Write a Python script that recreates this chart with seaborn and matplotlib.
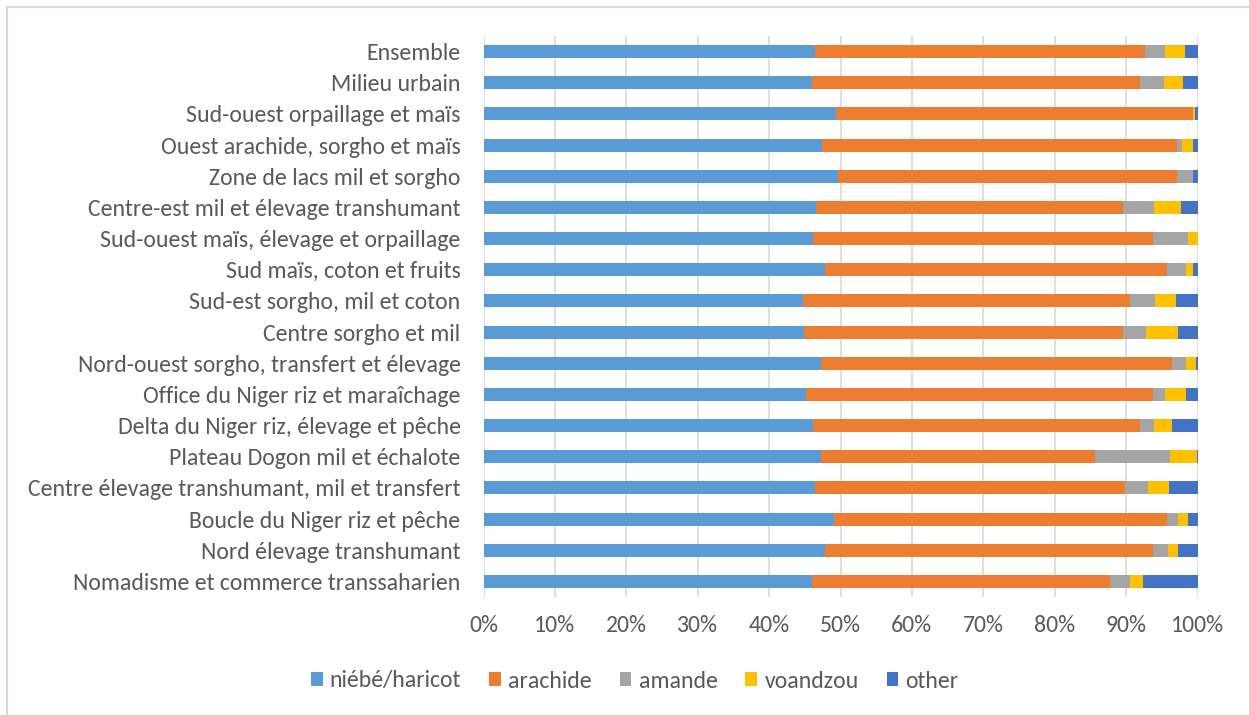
import numpy as np
import pandas as pd
import matplotlib
matplotlib.use("Agg")
import matplotlib.pyplot as plt
import seaborn as sns
from matplotlib.patches import Patch
from matplotlib.lines import Line2D
from matplotlib.ticker import FuncFormatter

# Livelihood zones, top to bottom
zones = [
    "Ensemble",
    "Milieu urbain",
    "Sud-ouest orpaillage et maïs",
    "Ouest arachide, sorgho et maïs",
    "Zone de lacs mil et sorgho",
    "Centre-est mil et élevage transhumant",
    "Sud-ouest maïs, élevage et orpaillage",
    "Sud maïs, coton et fruits",
    "Sud-est sorgho, mil et coton",
    "Centre sorgho et mil",
    "Nord-ouest sorgho, transfert et élevage",
    "Office du Niger riz et maraîchage",
    "Delta du Niger riz, élevage et pêche",
    "Plateau Dogon mil et échalote",
    "Centre élevage transhumant, mil et transfert",
    "Boucle du Niger riz et pêche",
    "Nord élevage transhumant",
    "Nomadisme et commerce transsaharien",
]

# Shares (%) of each legume in every zone
niebe = [46.4, 46.0, 49.3, 47.4, 49.7, 46.6, 46.2, 47.8, 44.7,
         44.9, 47.2, 45.1, 46.2, 47.2, 46.4, 49.1, 47.8, 46.0]
arachide = [46.3, 45.9, 50.1, 49.7, 47.4, 43.0, 47.5, 47.9, 45.8,
            44.7, 49.2, 48.6, 45.7, 38.5, 43.5, 46.6, 45.9, 41.8]
amande = [2.8, 3.4, 0.0, 0.7, 2.3, 4.3, 5.0, 2.7, 3.6,
          3.2, 2.0, 1.8, 2.0, 10.4, 3.1, 1.5, 2.2, 2.7]
voandzou = [2.7, 2.7, 0.3, 1.5, 0.0, 3.8, 1.3, 1.0, 2.9,
            4.5, 1.4, 2.9, 2.5, 3.8, 3.0, 1.4, 1.4, 1.8]
other = [1.8, 2.0, 0.3, 0.7, 0.6, 2.3, 0.0, 0.6, 3.0,
         2.7, 0.2, 1.6, 3.6, 0.1, 4.0, 1.4, 2.7, 7.7]

series_names = ["niébé/haricot", "arachide", "amande", "voandzou", "other"]
series_colors = ["#5B9BD5", "#ED7D31", "#A5A5A5", "#FFC000", "#4472C4"]
x_ticks = list(range(0, 101, 10))

sns.set_theme(style="white")
plt.rcParams["font.family"] = ["Carlito", "Lato", "DejaVu Sans"]
text_color = "#595959"
grid_color = "#D9D9D9"

df = pd.DataFrame({"zone": zones, "niébé/haricot": niebe, "arachide": arachide,
                   "amande": amande, "voandzou": voandzou, "other": other})
cum = df[series_names].cumsum(axis=1)

fig = plt.figure(figsize=(12.49, 7.15), dpi=100)
ax = fig.add_axes([483.5 / 1249, 1 - 597 / 715, 714 / 1249, 561 / 715])

# Stacked bars: draw running totals from the widest down so each layer shows
for name, color in reversed(list(zip(series_names, series_colors))):
    sns.barplot(x=cum[name], y=df["zone"], orient="h", color=color,
                saturation=1, width=0.42, linewidth=0, errorbar=None, ax=ax)

ax.set_xlim(0, 100)
ax.set_ylim(len(zones) - 0.5, -0.5)
ax.set_xticks(x_ticks)
ax.xaxis.set_major_formatter(FuncFormatter(lambda v, _: f"{v:.0f}%"))
ax.set_xlabel("")
ax.set_ylabel("")
ax.xaxis.grid(True, color=grid_color, linewidth=1.2)
ax.yaxis.grid(False)
ax.set_axisbelow(True)
for s in ax.spines.values():
    s.set_visible(False)
ax.tick_params(axis="both", length=0, colors=text_color)
ax.tick_params(axis="y", pad=16.5)
ax.tick_params(axis="x", pad=13)

# Size the text so the longest-looking zone name spans its measured width
fs = 16.0
longest = ax.get_yticklabels()[-1]
longest.set_fontsize(fs)
fig.canvas.draw()
renderer = fig.canvas.get_renderer()
fs = fs * 388 / longest.get_window_extent(renderer).width
for t in ax.get_yticklabels() + ax.get_xticklabels():
    t.set_fontsize(fs)
    t.set_color(text_color)

handles = [Patch(facecolor=c, edgecolor="none") for c in series_colors]
leg = fig.legend(handles, series_names, loc="center",
                 bbox_to_anchor=(634.7 / 1249, 1 - 681 / 715), ncol=5,
                 frameon=False, fontsize=fs, handlelength=0.5, handleheight=0.5,
                 handletextpad=0.3, columnspacing=1.17)
for t in leg.get_texts():
    t.set_color(text_color)

# Chart-area frame (top and left edges)
fig.add_artist(Line2D([7 / 1249, 7 / 1249], [0, 1 - 7 / 715],
                      color=grid_color, linewidth=1.5, transform=fig.transFigure))
fig.add_artist(Line2D([7 / 1249, 1], [1 - 7 / 715, 1 - 7 / 715],
                      color=grid_color, linewidth=1.5, transform=fig.transFigure))

fig.savefig("out.png", dpi=100)
